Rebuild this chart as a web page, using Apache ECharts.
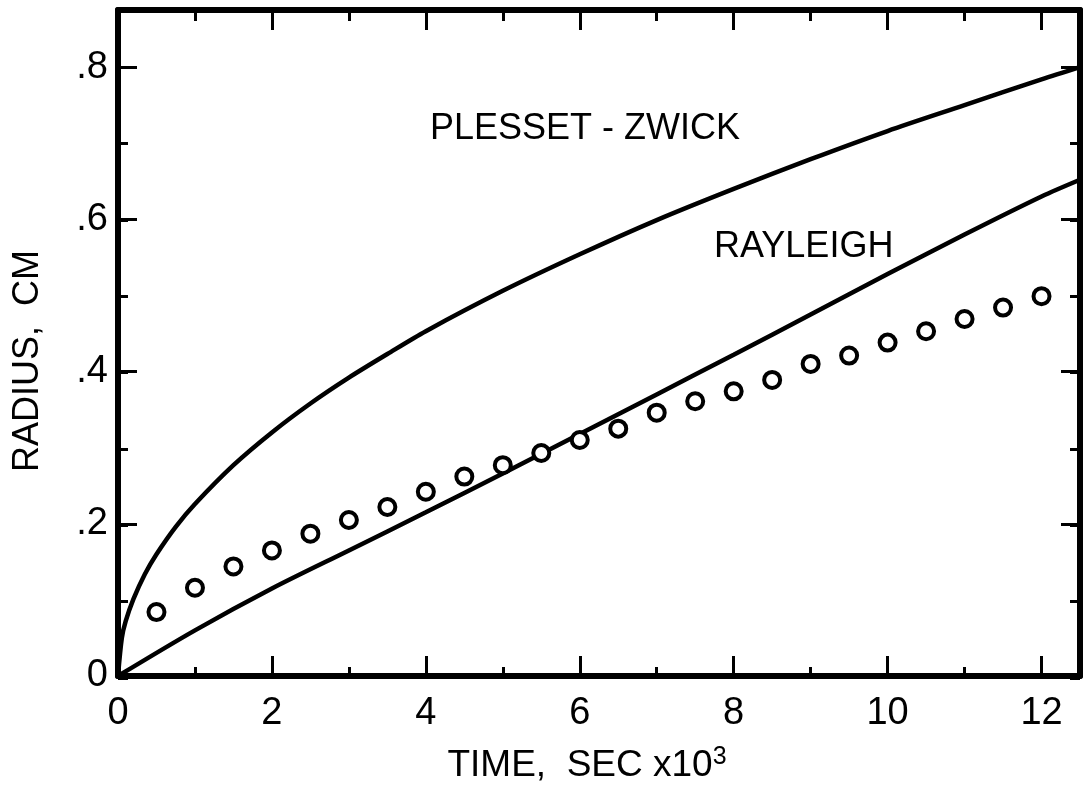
<!DOCTYPE html>
<html>
<head>
<meta charset="utf-8">
<script src="https://cdn.jsdelivr.net/npm/echarts@6/dist/echarts.min.js"></script>
<style>
html,body{margin:0;padding:0;background:#fff;}
#chart{width:1086px;height:789px;}
</style>
</head>
<body>
<div id="chart"></div>
<script>
// ---- data ----
const pzTime   = [0, 0.05, 0.1, 0.2, 0.35, 0.5, 0.75, 1, 1.5, 2, 2.5, 3, 3.5, 4, 5, 6, 7, 8, 9, 10, 11, 12, 12.5];
const pzRadius = [0, 0.05, 0.072, 0.101, 0.134, 0.16, 0.196, 0.226, 0.277, 0.32, 0.358, 0.392, 0.423, 0.453, 0.506, 0.554, 0.599, 0.64, 0.679, 0.716, 0.75, 0.784, 0.80];

const rayTime   = [0, 1, 2, 3, 4, 5, 6, 7, 8, 9, 10, 11, 12, 12.5];
const rayRadius = [0, 0.06, 0.115, 0.165, 0.215, 0.266, 0.318, 0.37, 0.422, 0.475, 0.528, 0.58, 0.630, 0.652];

const obsTime   = [0.5, 1, 1.5, 2, 2.5, 3, 3.5, 4, 4.5, 5, 5.5, 6, 6.5, 7, 7.5, 8, 8.5, 9, 9.5, 10, 10.5, 11, 11.5, 12];
const obsRadius = [0.084, 0.116, 0.144, 0.165, 0.187, 0.205, 0.222, 0.242, 0.262, 0.277, 0.293, 0.310, 0.325, 0.346, 0.361, 0.374, 0.389, 0.410, 0.421, 0.438, 0.453, 0.469, 0.484, 0.499];

const xTickLabels = ['0', '2', '4', '6', '8', '10', '12'];
const yTickLabels = ['0', '.2', '.4', '.6', '.8'];

const xMin = 0, xMax = 12.5, yMin = 0, yMax = 0.875;
const labelFont = '"Liberation Sans", Arial, sans-serif';

function zip(a, b) { return a.map((v, i) => [v, b[i]]); }

function xLabel(v) {
  const s = String(Math.round(v));
  return (Math.abs(v - Math.round(v)) < 1e-6 && xTickLabels.indexOf(s) >= 0) ? s : '';
}
function yLabel(v) {
  const k = Math.round(v * 5);
  if (Math.abs(v * 5 - k) > 1e-6) return '';
  return yTickLabels[k] !== undefined ? yTickLabels[k] : '';
}

const black = '#000';
function xAx(grid, pos, interval, tickLen, main) {
  return {
    type: 'value', gridIndex: grid, position: pos, min: xMin, max: xMax, interval: interval,
    axisLine: { show: main, onZero: false, lineStyle: { color: black, width: 6 } },
    axisTick: { show: true, inside: true, length: tickLen, lineStyle: { color: black, width: 3 } },
    axisLabel: { show: main && pos === 'bottom', formatter: xLabel, color: black, fontSize: 38, fontFamily: labelFont, margin: 19 },
    splitLine: { show: false }
  };
}
function yAx(grid, pos, interval, tickLen, main) {
  return {
    type: 'value', gridIndex: grid, position: pos, min: yMin, max: yMax, interval: interval,
    axisLine: { show: main, onZero: false, lineStyle: { color: black, width: 6 } },
    axisTick: { show: true, inside: true, length: tickLen, lineStyle: { color: black, width: 3 } },
    axisLabel: { show: main && pos === 'left', formatter: yLabel, color: black, fontSize: 38, fontFamily: labelFont, margin: 10 },
    splitLine: { show: false }
  };
}

const xMain = xAx(0, 'bottom', 2, 20, true);
xMain.name = 'TIME,  SEC x10{sup|3}';
xMain.nameLocation = 'middle';
xMain.nameGap = 69;
xMain.nameTextStyle = {
  color: black, fontSize: 37, fontFamily: labelFont, padding: [0, 24, 0, 0],
  rich: { sup: { fontSize: 25, fontFamily: labelFont, color: black, padding: [0, 0, 16, 0] } }
};

const yMain = yAx(0, 'left', 0.2, 19, true);
yMain.name = 'RADIUS,  CM';
yMain.nameLocation = 'middle';
yMain.nameGap = 72;
yMain.nameTextStyle = { color: black, fontSize: 36, fontFamily: labelFont, padding: [0, 36, 0, 0] };

const chart = echarts.init(document.getElementById('chart'), null, { renderer: 'canvas' });
chart.setOption({
  animation: false,
  backgroundColor: '#fff',
  grid: [
    { left: 118, right: 6, top: 10, bottom: 111 },
    { left: 118, right: 6, top: 10, bottom: 111 }
  ],
  xAxis: [
    xMain,
    xAx(0, 'top', 2, 20, true),
    xAx(1, 'bottom', 1, 11, false),
    xAx(1, 'top', 1, 11, false)
  ],
  yAxis: [
    yMain,
    yAx(0, 'right', 0.2, 19, true),
    yAx(1, 'left', 0.1, 10, false),
    yAx(1, 'right', 0.1, 10, false)
  ],
  series: [
    {
      name: 'PLESSET - ZWICK', type: 'line', xAxisIndex: 0, yAxisIndex: 0,
      data: zip(pzTime, pzRadius), smooth: 0.3, showSymbol: false,
      lineStyle: { color: black, width: 4.5 }, z: 3
    },
    {
      name: 'RAYLEIGH', type: 'line', xAxisIndex: 0, yAxisIndex: 0,
      data: zip(rayTime, rayRadius), smooth: 0.3, showSymbol: false,
      lineStyle: { color: black, width: 4.5 }, z: 3
    },
    {
      name: 'Observed', type: 'scatter', xAxisIndex: 0, yAxisIndex: 0,
      data: zip(obsTime, obsRadius), symbol: 'circle', symbolSize: 16,
      itemStyle: { color: '#fff', borderColor: black, borderWidth: 4, opacity: 1 }, z: 4
    }
  ],
  graphic: [
    { type: 'text', left: 430, top: 111, style: { text: 'PLESSET - ZWICK', fill: black, font: '36px ' + labelFont } },
    { type: 'text', left: 714, top: 229, style: { text: 'RAYLEIGH', fill: black, font: '36px ' + labelFont } }
  ]
});
</script>
</body>
</html>
